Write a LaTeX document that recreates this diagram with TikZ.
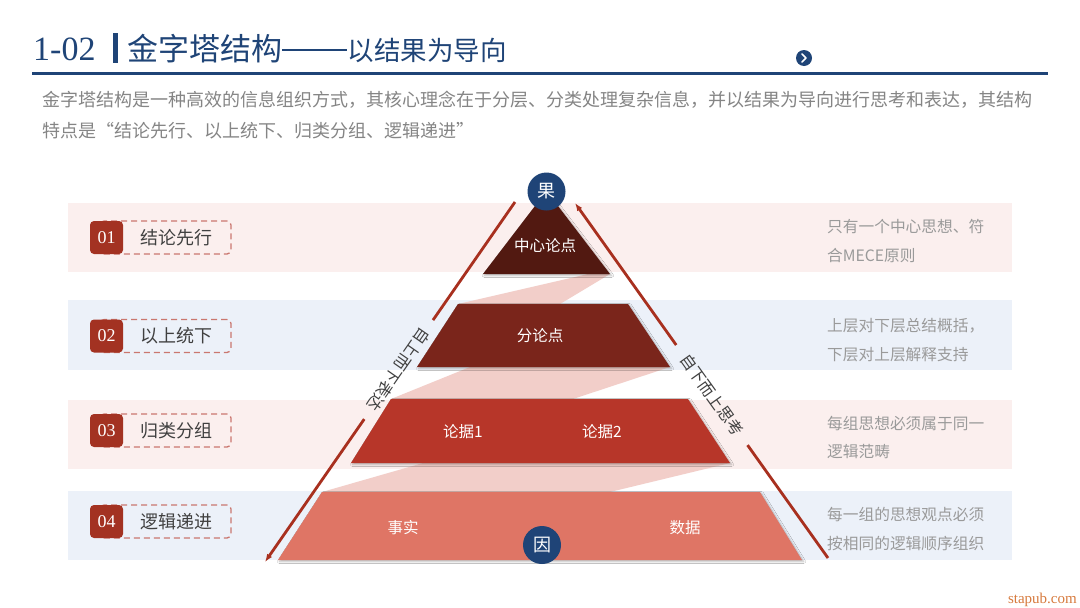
\documentclass[tikz,border=0pt]{standalone}
\usepackage{fontspec}
\setmainfont{Liberation Serif}
\newfontfamily\cjk{Noto Sans CJK SC}
\usetikzlibrary{shadows.blur,arrows.meta,calc}
\definecolor{navy}{HTML}{1F4477}
\definecolor{bandpink}{HTML}{FBEFEE}
\definecolor{bandblue}{HTML}{ECF1F9}
\definecolor{numred}{HTML}{A33222}
\definecolor{dashred}{HTML}{CA776F}
\definecolor{lblgray}{HTML}{404040}
\definecolor{descgray}{HTML}{9A9A9A}
\definecolor{subgray}{HTML}{858585}
\definecolor{tierA}{HTML}{521911}
\definecolor{tierB}{HTML}{7A251B}
\definecolor{tierC}{HTML}{B73629}
\definecolor{tierD}{HTML}{DF7565}
\definecolor{connpink}{HTML}{F2CEC9}
\definecolor{arrred}{HTML}{A8301F}
\definecolor{wmark}{HTML}{D77A3D}
\begin{document}
\begin{tikzpicture}[x=1pt,y=-1pt,
  numbox/.style={rounded corners=4pt, fill=numred, text=white, minimum width=33pt, minimum height=33pt, inner sep=0pt, font=\fontsize{18}{18}\selectfont},
  dashbox/.style={draw=dashred, dash pattern=on 6pt off 4pt, line width=1.3pt, rounded corners=4pt, minimum width=131pt, minimum height=33pt, inner sep=0pt},
  lbl/.style={text=lblgray, inner sep=0pt, font=\cjk\fontsize{18}{18}\selectfont},
  desc/.style={anchor=west, inner sep=0pt, align=left, text=descgray, font=\cjk\fontsize{15.7}{28.3}\selectfont},
  tierlbl/.style={text=white, inner sep=0pt, font=\cjk\fontsize{15.5}{15.5}\selectfont},
  badge/.style={circle, fill=navy, text=white, minimum size=38pt, inner sep=0pt, font=\cjk\fontsize{18}{18}\selectfont},
  sidelbl/.style={text=lblgray, inner sep=1pt, font=\cjk\fontsize{16}{16}\selectfont},
  tiershadow/.style={blur shadow={shadow xshift=1.5pt, shadow yshift=-1.5pt, shadow opacity=30, shadow blur radius=2pt}},
  arrline/.style={draw=arrred, line width=2.8pt}
]
\useasboundingbox (0,0) rectangle (1080,608);
\fill[white] (0,0) rectangle (1080,608);

% ---------- title ----------
\node[anchor=base west, inner sep=0pt, text=navy, font=\fontsize{34}{34}\selectfont] (num) at (33,60) {1-02};
\node[fill=navy, minimum width=4.5pt, minimum height=30pt, inner sep=0pt] (bar) at (115.5,47.5) {};
\node[anchor=base west, inner sep=0pt, text=navy, font=\cjk\fontsize{31}{31}\selectfont] (ttl) at (127,60) {金字塔结构\rule[0.3em]{65pt}{1.6pt}};
\node[anchor=base west, inner sep=0pt, text=navy, font=\cjk\fontsize{26.5}{26.5}\selectfont] (ttl2) at (ttl.base east) {以结果为导向};
\draw[navy, line width=3pt] (32,73) -- (1048,73);
\node[circle, fill=navy, minimum size=16pt, inner sep=0pt] (nxt) at (804,58) {};
\draw[white, line width=1.6pt, line cap=round, line join=round] ($(nxt)+(-2,-4)$) -- ($(nxt)+(2,0)$) -- ($(nxt)+(-2,4)$);

% ---------- subtitle ----------
\node[anchor=base west, inner sep=0pt, text=subgray, font=\cjk\fontsize{18}{18}\selectfont] (sub1) at (42,106.5) {金字塔结构是一种高效的信息组织方式，其核心理念在于分层、分类处理复杂信息，并以结果为导向进行思考和表达，其结构};
\node[anchor=base west, inner sep=0pt, text=subgray, font=\cjk\fontsize{18}{18}\selectfont] (sub2) at (42,137.5) {特点是“结论先行、以上统下、归类分组、逻辑递进”};

% ---------- bands ----------
\fill[bandpink] (68,203) rectangle (1012,272);
\fill[bandblue] (68,300) rectangle (1012,370);
\fill[bandpink] (68,400) rectangle (1012,469);
\fill[bandblue] (68,491) rectangle (1012,560);

% ---------- left labels ----------
\foreach \i/\y/\t in {1/237.5/结论先行, 2/336/以上统下, 3/430.5/归类分组, 4/521.5/逻辑递进}{
  \node[dashbox] (box\i) at (165.5,\y) {};
  \node[numbox] (num\i) at (106.5,\y) {0\i};
  \node[lbl] (lbl\i) at (176,\y) {\t};
}

% ---------- right descriptions ----------
\node[desc] (d1) at (827,241) {只有一个中心思想、符\\合MECE原则};
\node[desc] (d2) at (827,340) {上层对下层总结概括，\\下层对上层解释支持};
\node[desc] (d3) at (827,437.5) {每组思想必须属于同一\\逻辑范畴};
\node[desc] (d4) at (827,529) {每一组的思想观点必须\\按相同的逻辑顺序组织};

% ---------- pyramid connectors ----------
\fill[connpink] (588,274) -- (610,274) -- (560,304) -- (458,304) -- cycle;
\fill[connpink] (470,367) -- (670,367) -- (573,399) -- (391,399) -- cycle;
\fill[connpink] (423,463) -- (730,463) -- (610,492) -- (322,492) -- cycle;

% ---------- pyramid tiers ----------
\fill[tierA, tiershadow] (546.5,191) -- (610,274) -- (483,274) -- cycle;
\fill[tierB, tiershadow] (458,304) -- (628,304) -- (670,367) -- (417,367) -- cycle;
\fill[tierC, tiershadow] (391,399) -- (688,399) -- (730,463) -- (351,463) -- cycle;
\fill[tierD, tiershadow] (322,492) -- (760,492) -- (802,560) -- (278,560) -- cycle;

\node[tierlbl] (t1) at (545,246) {中心论点};
\node[tierlbl] (t2) at (540,336) {分论点};
\node[tierlbl] (t3a) at (463,432) {论据1};
\node[tierlbl] (t3b) at (602,432) {论据2};
\node[tierlbl] (t4a) at (403,528) {事实};
\node[tierlbl] (t4b) at (685,528) {数据};

\node[badge] (guo) at (546.5,191.5) {果};
\node[badge] (yin) at (542,545) {因};

% ---------- side arrows ----------
\coordinate (L1) at (515,202);
\coordinate (L2) at (265,562);
\coordinate (R1) at (575,203);
\coordinate (R2) at (828,558);
\node[sidelbl, rotate=-124.8] (lt) at ($(L1)!0.465!(L2)$) {自上而下表达};
\node[sidelbl, rotate=-54.5] (rt) at ($(R1)!0.541!(R2)$) {自下而上思考};
\draw[arrline] (L1) -- ($(L1)!0.328!(L2)$);
\draw[arrline, -{Latex[length=8pt,width=6pt]}] ($(L1)!0.603!(L2)$) -- (L2);
\draw[arrline, {Latex[length=8pt,width=6pt]}-] (R1) -- ($(R1)!0.40!(R2)$);
\draw[arrline] ($(R1)!0.682!(R2)$) -- (R2);

% ---------- watermark ----------
\node[anchor=base east, inner sep=0pt, text=wmark, font=\fontsize{15}{15}\selectfont] (wm) at (1077,603) {stapub.com};
\end{tikzpicture}
\end{document}
